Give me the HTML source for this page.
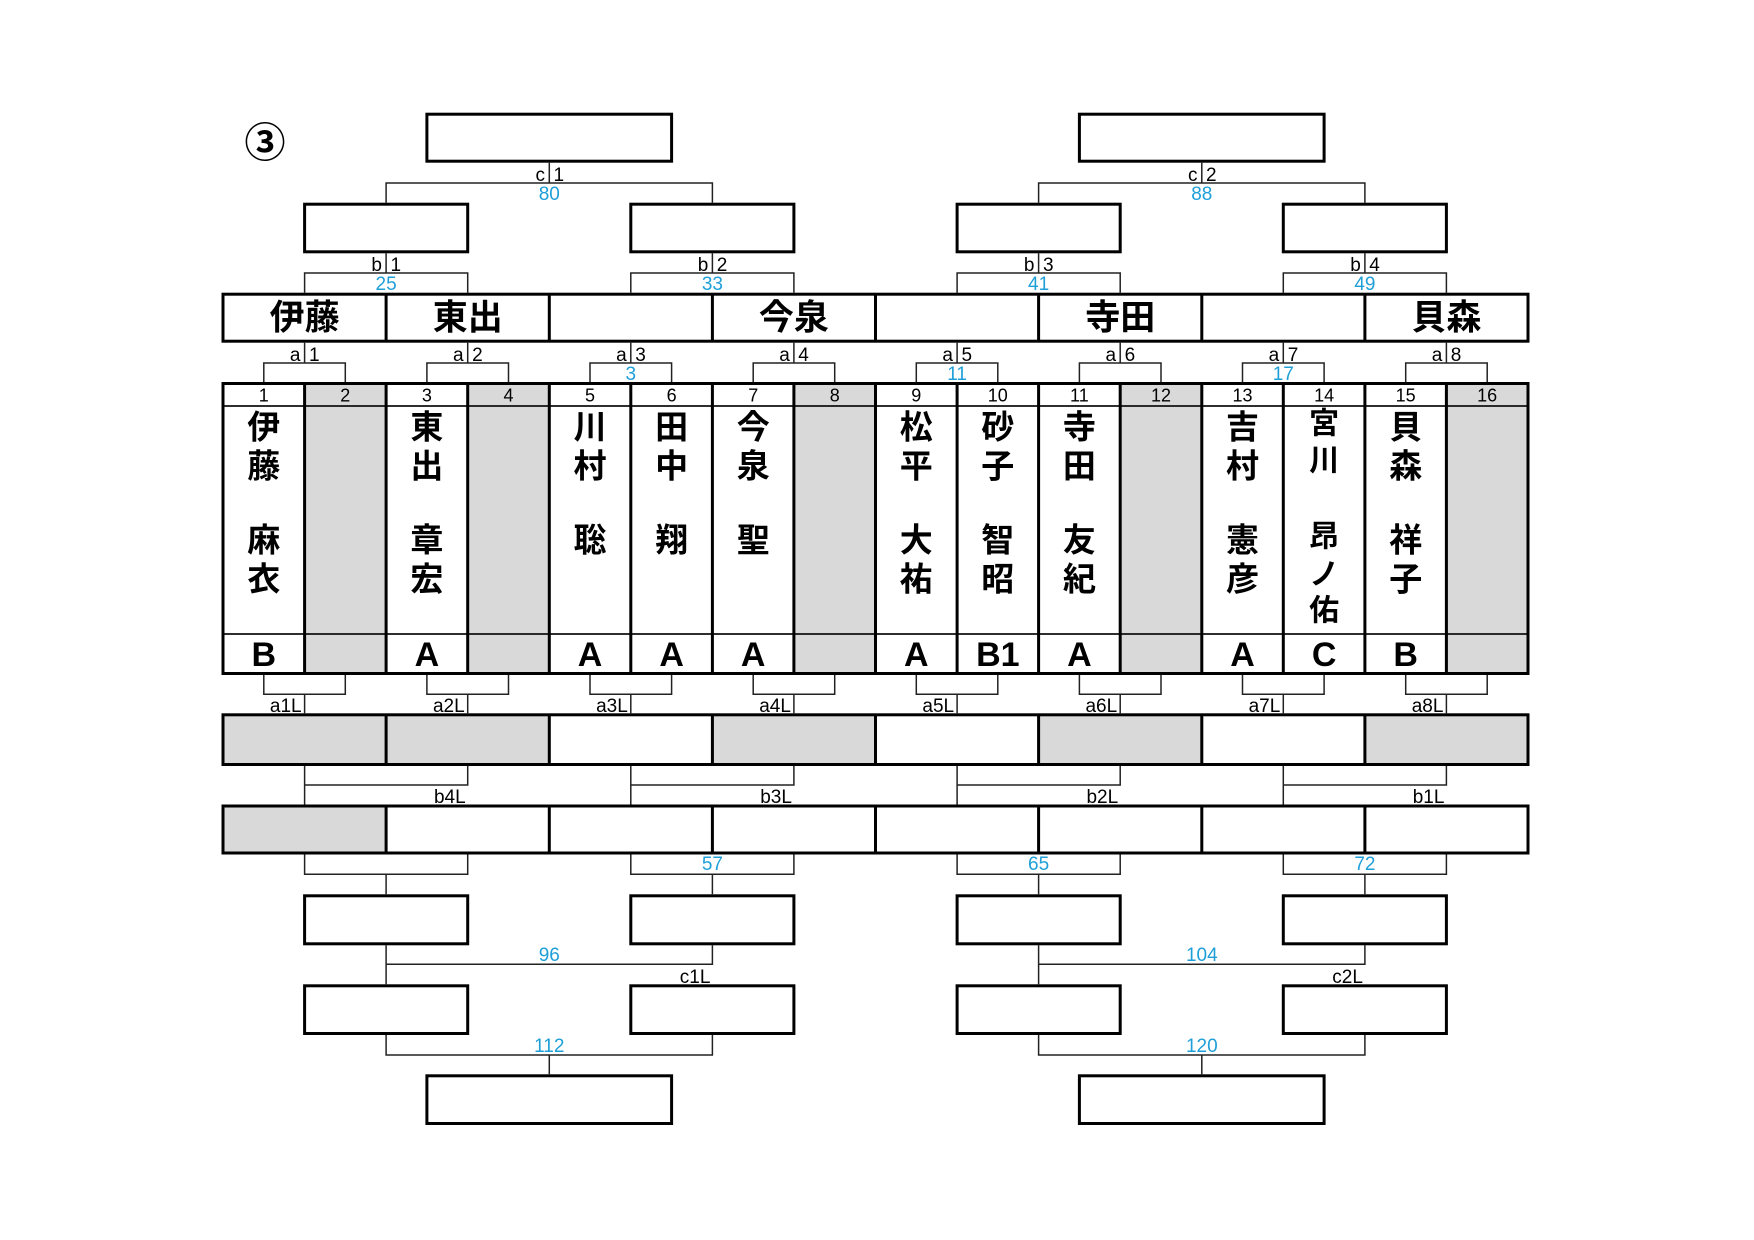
<!DOCTYPE html>
<html><head><meta charset="utf-8"><style>
html,body{margin:0;padding:0;background:#fff;}
svg{display:block;}
.l{font-family:"Liberation Sans","DejaVu Sans",sans-serif;font-size:19px;fill:#000;}
.b{font-family:"Liberation Sans","DejaVu Sans",sans-serif;font-size:19px;fill:#1e9fd8;}
.n{font-family:"Liberation Sans","DejaVu Sans",sans-serif;font-size:18px;fill:#000;}
.g{font-family:"Liberation Sans","DejaVu Sans",sans-serif;font-size:34px;font-weight:bold;fill:#000;}
.k{font-family:"Liberation Sans","Noto Sans CJK JP",sans-serif;font-size:33px;font-weight:bold;fill:#000;}
.ks{font-family:"Liberation Sans","Noto Sans CJK JP",sans-serif;font-size:30px;font-weight:bold;fill:#000;}
.h{font-family:"Liberation Sans","Noto Sans CJK JP",sans-serif;font-size:35px;font-weight:bold;fill:#000;}
</style></head><body>
<svg width="1754" height="1240" viewBox="0 0 1754 1240" xmlns="http://www.w3.org/2000/svg">
<rect width="1754" height="1240" fill="#fff"/>

<!-- gray fills -->
<g fill="#d9d9d9">
<rect x="304.6" y="383.5" width="81.5" height="290"/>
<rect x="467.7" y="383.5" width="81.6" height="290"/>
<rect x="793.9" y="383.5" width="81.6" height="290"/>
<rect x="1120.2" y="383.5" width="81.6" height="290"/>
<rect x="1446.4" y="383.5" width="81.6" height="290"/>
<rect x="223" y="714.8" width="163.1" height="49.7"/>
<rect x="386.1" y="714.8" width="163.2" height="49.7"/>
<rect x="712.4" y="714.8" width="163.1" height="49.7"/>
<rect x="1038.6" y="714.8" width="163.2" height="49.7"/>
<rect x="1364.9" y="714.8" width="163.1" height="49.7"/>
<rect x="223" y="806" width="163.1" height="47"/>
</g>

<!-- thin connectors -->
<path fill="none" stroke="#222" stroke-width="1.5" d="
M549.3 162.7V183 M386.1 202.7V183H712.4V202.7
M1201.8 162.7V183 M1038.6 202.7V183H1364.9V202.7
M386.1 253.3V273 M304.6 292.7V273H467.7V292.7
M712.4 253.3V273 M630.8 292.7V273H793.9V292.7
M1038.6 253.3V273 M957.1 292.7V273H1120.2V292.7
M1364.9 253.3V273 M1283.3 292.7V273H1446.4V292.7
M304.6 342.7V363 M263.8 382V363H345.3V382
M467.7 342.7V363 M426.9 382V363H508.5V382
M630.8 342.7V363 M590.0 382V363H671.6V382
M793.9 342.7V363 M753.2 382V363H834.7V382
M957.1 342.7V363 M916.3 382V363H997.8V382
M1120.2 342.7V363 M1079.4 382V363H1161.0V382
M1283.3 342.7V363 M1242.5 382V363H1324.1V382
M1446.4 342.7V363 M1405.7 382V363H1487.2V382
M263.8 675V694.3H345.3V675 M304.6 694.3V713.3
M426.9 675V694.3H508.5V675 M467.7 694.3V713.3
M590.0 675V694.3H671.6V675 M630.8 694.3V713.3
M753.2 675V694.3H834.7V675 M793.9 694.3V713.3
M916.3 675V694.3H997.8V675 M957.1 694.3V713.3
M1079.4 675V694.3H1161.0V675 M1120.2 694.3V713.3
M1242.5 675V694.3H1324.1V675 M1283.3 694.3V713.3
M1405.7 675V694.3H1487.2V675 M1446.4 694.3V713.3
M304.6 766V804.5 M304.6 785H467.7V766
M630.8 766V804.5 M630.8 785H793.9V766
M957.1 766V804.5 M957.1 785H1120.2V766
M1283.3 766V804.5 M1283.3 785H1446.4V766
M304.6 854.5V874.3H467.7V854.5 M386.1 874.3V894.3
M630.8 854.5V874.3H793.9V854.5 M712.4 874.3V894.3
M957.1 854.5V874.3H1120.2V854.5 M1038.6 874.3V894.3
M1283.3 854.5V874.3H1446.4V854.5 M1364.9 874.3V894.3
M386.1 945.3V984.3 M386.1 964.3H712.4V945.3
M1038.6 945.3V984.3 M1038.6 964.3H1364.9V945.3
M386.1 1035V1055H712.4V1035 M549.3 1055V1074.3
M1038.6 1035V1055H1364.9V1035 M1201.8 1055V1074.3
"/>

<!-- thin table horizontals -->
<path fill="none" stroke="#111" stroke-width="1.7" d="M223 406H1528 M223 634H1528"/>

<!-- thick boxes -->
<g fill="none" stroke="#000" stroke-width="3">
<rect x="426.9" y="114.2" width="244.7" height="47"/>
<rect x="1079.4" y="114.2" width="244.7" height="47"/>
<rect x="304.6" y="204.2" width="163.1" height="47.6"/>
<rect x="630.8" y="204.2" width="163.1" height="47.6"/>
<rect x="957.1" y="204.2" width="163.1" height="47.6"/>
<rect x="1283.3" y="204.2" width="163.1" height="47.6"/>
<rect x="223" y="294.2" width="1305" height="47"/>
<path d="M386.1 294.2V341.2 M549.3 294.2V341.2 M712.4 294.2V341.2 M875.5 294.2V341.2 M1038.6 294.2V341.2 M1201.8 294.2V341.2 M1364.9 294.2V341.2"/>
<rect x="223" y="383.5" width="1305" height="290"/>
<path d="M304.6 383.5V673.5 M386.1 383.5V673.5 M467.7 383.5V673.5 M549.3 383.5V673.5 M630.8 383.5V673.5 M712.4 383.5V673.5 M793.9 383.5V673.5 M875.5 383.5V673.5 M957.1 383.5V673.5 M1038.6 383.5V673.5 M1120.2 383.5V673.5 M1201.8 383.5V673.5 M1283.3 383.5V673.5 M1364.9 383.5V673.5 M1446.4 383.5V673.5"/>
<rect x="223" y="714.8" width="1305" height="49.7"/>
<path d="M386.1 714.8V764.5 M549.3 714.8V764.5 M712.4 714.8V764.5 M875.5 714.8V764.5 M1038.6 714.8V764.5 M1201.8 714.8V764.5 M1364.9 714.8V764.5"/>
<rect x="223" y="806" width="1305" height="47"/>
<path d="M386.1 806V853 M549.3 806V853 M712.4 806V853 M875.5 806V853 M1038.6 806V853 M1201.8 806V853 M1364.9 806V853"/>
<rect x="304.6" y="895.8" width="163.1" height="48"/>
<rect x="630.8" y="895.8" width="163.1" height="48"/>
<rect x="957.1" y="895.8" width="163.1" height="48"/>
<rect x="1283.3" y="895.8" width="163.1" height="48"/>
<rect x="304.6" y="985.8" width="163.1" height="47.7"/>
<rect x="630.8" y="985.8" width="163.1" height="47.7"/>
<rect x="957.1" y="985.8" width="163.1" height="47.7"/>
<rect x="1283.3" y="985.8" width="163.1" height="47.7"/>
<rect x="426.9" y="1075.8" width="244.7" height="47.7"/>
<rect x="1079.4" y="1075.8" width="244.7" height="47.7"/>
</g>

<!-- circled number -->
<text x="265" y="139" font-size="41" font-weight="bold" text-anchor="middle" dominant-baseline="central" font-family="Noto Sans CJK JP, DejaVu Sans, sans-serif">③</text>

<!-- c labels -->
<text class="l" x="545" y="181" text-anchor="end">c</text><text class="l" x="553.5" y="181">1</text>
<text class="b" x="549.3" y="200" text-anchor="middle">80</text>
<text class="l" x="1197.5" y="181" text-anchor="end">c</text><text class="l" x="1206" y="181">2</text>
<text class="b" x="1201.8" y="200" text-anchor="middle">88</text>

<!-- b labels -->
<text class="l" x="382" y="271" text-anchor="end">b</text><text class="l" x="390.5" y="271">1</text>
<text class="b" x="386.1" y="290" text-anchor="middle">25</text>
<text class="l" x="708.3" y="271" text-anchor="end">b</text><text class="l" x="716.8" y="271">2</text>
<text class="b" x="712.4" y="290" text-anchor="middle">33</text>
<text class="l" x="1034.5" y="271" text-anchor="end">b</text><text class="l" x="1043" y="271">3</text>
<text class="b" x="1038.6" y="290" text-anchor="middle">41</text>
<text class="l" x="1360.8" y="271" text-anchor="end">b</text><text class="l" x="1369.3" y="271">4</text>
<text class="b" x="1364.9" y="290" text-anchor="middle">49</text>

<!-- name row -->
<text class="h" x="304.6" y="318" text-anchor="middle" dominant-baseline="central">伊藤</text>
<text class="h" x="467.7" y="318" text-anchor="middle" dominant-baseline="central">東出</text>
<text class="h" x="793.9" y="318" text-anchor="middle" dominant-baseline="central">今泉</text>
<text class="h" x="1120.2" y="318" text-anchor="middle" dominant-baseline="central">寺田</text>
<text class="h" x="1446.4" y="318" text-anchor="middle" dominant-baseline="central">貝森</text>

<!-- a labels -->
<text class="l" x="300.5" y="361" text-anchor="end">a</text><text class="l" x="309" y="361">1</text>
<text class="l" x="463.6" y="361" text-anchor="end">a</text><text class="l" x="472.1" y="361">2</text>
<text class="l" x="626.7" y="361" text-anchor="end">a</text><text class="l" x="635.2" y="361">3</text>
<text class="l" x="789.8" y="361" text-anchor="end">a</text><text class="l" x="798.3" y="361">4</text>
<text class="l" x="953" y="361" text-anchor="end">a</text><text class="l" x="961.5" y="361">5</text>
<text class="l" x="1116.1" y="361" text-anchor="end">a</text><text class="l" x="1124.6" y="361">6</text>
<text class="l" x="1279.2" y="361" text-anchor="end">a</text><text class="l" x="1287.7" y="361">7</text>
<text class="l" x="1442.3" y="361" text-anchor="end">a</text><text class="l" x="1450.8" y="361">8</text>
<text class="b" x="630.8" y="380" text-anchor="middle">3</text>
<text class="b" x="957.1" y="380" text-anchor="middle">11</text>
<text class="b" x="1283.3" y="380" text-anchor="middle">17</text>

<!-- player numbers -->
<g text-anchor="middle">
<text class="n" x="263.8" y="401.5">1</text>
<text class="n" x="345.3" y="401.5">2</text>
<text class="n" x="426.9" y="401.5">3</text>
<text class="n" x="508.5" y="401.5">4</text>
<text class="n" x="590.0" y="401.5">5</text>
<text class="n" x="671.6" y="401.5">6</text>
<text class="n" x="753.2" y="401.5">7</text>
<text class="n" x="834.7" y="401.5">8</text>
<text class="n" x="916.3" y="401.5">9</text>
<text class="n" x="997.8" y="401.5">10</text>
<text class="n" x="1079.4" y="401.5">11</text>
<text class="n" x="1161.0" y="401.5">12</text>
<text class="n" x="1242.5" y="401.5">13</text>
<text class="n" x="1324.1" y="401.5">14</text>
<text class="n" x="1405.7" y="401.5">15</text>
<text class="n" x="1487.2" y="401.5">16</text>
</g>

<!-- vertical names -->
<g text-anchor="middle" dominant-baseline="central">
<text class="k" x="263.8" y="427">伊</text><text class="k" x="263.8" y="466">藤</text><text class="k" x="263.8" y="540">麻</text><text class="k" x="263.8" y="579">衣</text>
<text class="k" x="426.9" y="427">東</text><text class="k" x="426.9" y="466">出</text><text class="k" x="426.9" y="540">章</text><text class="k" x="426.9" y="579">宏</text>
<text class="k" x="590.0" y="427">川</text><text class="k" x="590.0" y="466">村</text><text class="k" x="590.0" y="540">聡</text>
<text class="k" x="671.6" y="427">田</text><text class="k" x="671.6" y="466">中</text><text class="k" x="671.6" y="540">翔</text>
<text class="k" x="753.2" y="427">今</text><text class="k" x="753.2" y="466">泉</text><text class="k" x="753.2" y="540">聖</text>
<text class="k" x="916.3" y="427">松</text><text class="k" x="916.3" y="466">平</text><text class="k" x="916.3" y="540">大</text><text class="k" x="916.3" y="579">祐</text>
<text class="k" x="997.8" y="427">砂</text><text class="k" x="997.8" y="466">子</text><text class="k" x="997.8" y="540">智</text><text class="k" x="997.8" y="579">昭</text>
<text class="k" x="1079.4" y="427">寺</text><text class="k" x="1079.4" y="466">田</text><text class="k" x="1079.4" y="540">友</text><text class="k" x="1079.4" y="579">紀</text>
<text class="k" x="1242.5" y="427">吉</text><text class="k" x="1242.5" y="466">村</text><text class="k" x="1242.5" y="540">憲</text><text class="k" x="1242.5" y="579">彦</text>
<text class="ks" x="1324.1" y="424">宮</text><text class="ks" x="1324.1" y="461">川</text><text class="ks" x="1324.1" y="537">昂</text><text class="ks" x="1324.1" y="575">ノ</text><text class="ks" x="1324.1" y="611">佑</text>
<text class="k" x="1405.7" y="427">貝</text><text class="k" x="1405.7" y="466">森</text><text class="k" x="1405.7" y="540">祥</text><text class="k" x="1405.7" y="579">子</text>
</g>

<!-- grades -->
<g text-anchor="middle">
<text class="g" x="263.8" y="666">B</text>
<text class="g" x="426.9" y="666">A</text>
<text class="g" x="590.0" y="666">A</text>
<text class="g" x="671.6" y="666">A</text>
<text class="g" x="753.2" y="666">A</text>
<text class="g" x="916.3" y="666">A</text>
<text class="g" x="997.8" y="666">B1</text>
<text class="g" x="1079.4" y="666">A</text>
<text class="g" x="1242.5" y="666">A</text>
<text class="g" x="1324.1" y="666">C</text>
<text class="g" x="1405.7" y="666">B</text>
</g>

<!-- loser labels -->
<g text-anchor="end">
<text class="l" x="301.6" y="712">a1L</text>
<text class="l" x="464.7" y="712">a2L</text>
<text class="l" x="627.8" y="712">a3L</text>
<text class="l" x="790.9" y="712">a4L</text>
<text class="l" x="954.1" y="712">a5L</text>
<text class="l" x="1117.2" y="712">a6L</text>
<text class="l" x="1280.3" y="712">a7L</text>
<text class="l" x="1443.4" y="712">a8L</text>
<text class="l" x="465.7" y="803">b4L</text>
<text class="l" x="791.9" y="803">b3L</text>
<text class="l" x="1118.2" y="803">b2L</text>
<text class="l" x="1444.4" y="803">b1L</text>
<text class="l" x="710.4" y="983">c1L</text>
<text class="l" x="1362.9" y="983">c2L</text>
</g>
<g text-anchor="middle">
<text class="b" x="712.4" y="870">57</text>
<text class="b" x="1038.6" y="870">65</text>
<text class="b" x="1364.9" y="870">72</text>
<text class="b" x="549.3" y="961">96</text>
<text class="b" x="1201.8" y="961">104</text>
<text class="b" x="549.3" y="1052">112</text>
<text class="b" x="1201.8" y="1052">120</text>
</g>
</svg>
</body></html>
